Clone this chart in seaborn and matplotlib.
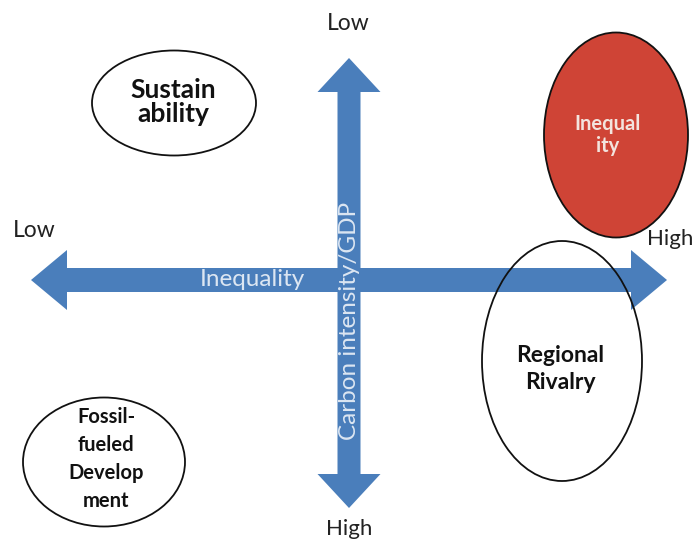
import matplotlib
matplotlib.use("Agg")
import matplotlib.pyplot as plt
from matplotlib.patches import Ellipse, FancyArrow
import seaborn as sns

sns.set_theme(style="white")
plt.rcParams['font.family'] = ['Lato', 'DejaVu Sans']

# Scenario bubbles (label, centre x, centre y, width, height) in canvas pixels
scenario_labels = ["Sustain\nability", "Inequal\nity", "Regional\nRivalry",
                   "Fossil-\nfueled\nDevelop\nment"]
scenario_x = [174, 616, 562, 104]
scenario_y = [103, 135, 361, 462]
scenario_w = [164, 144, 160, 162]
scenario_h = [105, 205, 240, 129]
scenario_fill = ["white", "#cf4436", "none", "white"]
scenario_text = ["#111111", "#f3e4de", "#111111", "#111111"]
# text placement / style per bubble
label_x = [173, 608, 560, 106]
label_y = [102, 135, 369, 459]
label_size = [19, 14.5, 16.5, 14.5]
label_spacing = [1.05, 1.1, 1.36, 1.5]

# Axis names and end labels
axis_names = ["Inequality", "Carbon intensity/GDP"]
end_labels = ["Low", "High", "Low", "High"]

W, H = 697, 544
fig = plt.figure(figsize=(W / 100, H / 100), dpi=100)
ax = fig.add_axes([0, 0, 1, 1])
ax.set_xlim(0, W)
ax.set_ylim(H, 0)
ax.axis("off")

blue = "#4a7ebb"
cx, cy = 349, 280
# horizontal double arrow
for x_end in (31, 667):
    ax.add_patch(FancyArrow(cx, cy, x_end - cx, 0, width=24, head_width=60,
                            head_length=36, length_includes_head=True,
                            color=blue, lw=0, zorder=2))
# vertical double arrow
for y_end in (58, 508):
    ax.add_patch(FancyArrow(cx, cy, 0, y_end - cy, width=23, head_width=63,
                            head_length=34, length_includes_head=True,
                            color=blue, lw=0, zorder=2))

# ellipses
for i, lab in enumerate(scenario_labels):
    ax.add_patch(Ellipse((scenario_x[i], scenario_y[i]), scenario_w[i], scenario_h[i],
                         facecolor=scenario_fill[i], edgecolor="#111111",
                         lw=1.3, zorder=3))
    ax.text(label_x[i], label_y[i], lab, ha="center", va="center",
            fontsize=label_size[i], fontweight="bold", color=scenario_text[i],
            linespacing=label_spacing[i], zorder=4)

# axis names on arrows
ax.text(252, 286, axis_names[0], ha="center", va="baseline", fontsize=17.5,
        color="#dce6f2", zorder=5)
ax.text(350, 321, axis_names[1], ha="center", va="center", fontsize=17.5,
        color="#dce6f2", rotation=90, zorder=5)

# end labels
lab_col = "#222222"
ax.text(34, 237, end_labels[0], ha="center", va="baseline", fontsize=16.5, color=lab_col)
ax.text(670, 245, end_labels[1], ha="center", va="baseline", fontsize=16, color=lab_col)
ax.text(348, 30, end_labels[2], ha="center", va="baseline", fontsize=16.5, color=lab_col)
ax.text(349, 535, end_labels[3], ha="center", va="baseline", fontsize=16, color=lab_col)

fig.savefig("out.png", dpi=100)
